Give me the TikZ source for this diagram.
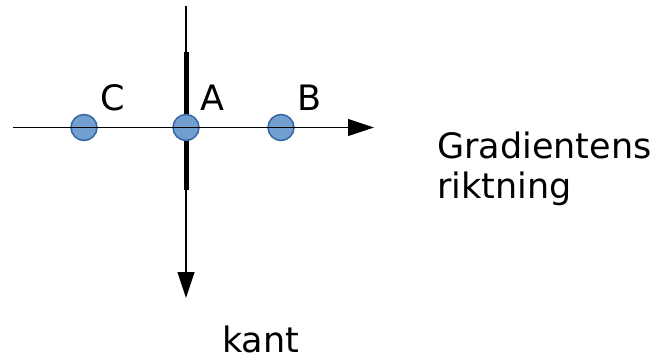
\documentclass[tikz,border=0pt]{standalone}
\usepackage{fontspec}
\setmainfont{DejaVu Sans}
\usepackage{tikz}
\usetikzlibrary{arrows.meta,positioning}
\usepackage{xcolor}
\definecolor{dotfill}{HTML}{729FCF}
\definecolor{dotline}{HTML}{3465A4}

\begin{document}
\begin{tikzpicture}[x=1pt, y=-1pt,
  axis/.style={line width=1.2pt, -{Triangle[length=26pt, width=17pt]}},
  dot/.style={circle, fill=dotfill, draw=dotline, line width=1.5pt, minimum size=26pt, inner sep=0pt},
  lbl/.style={anchor=base west, inner sep=0pt, font=\fontsize{35}{40}\selectfont}]
  \useasboundingbox (0,0) rectangle (655,361);
  % edge and axes
  \coordinate (ktop) at (186,52);
  \coordinate (kbot) at (186,190);
  \coordinate (vstart) at (186,6);
  \coordinate (vend) at (186,298);
  \coordinate (hstart) at (13,127.5);
  \coordinate (hend) at (374,127.5);
  \draw[line width=5pt] (ktop) -- (kbot);
  \draw[axis] (vstart) -- (vend);
  \node[dot] (c) at (84,127.5) {};
  \node[dot] (a) at (186,127.5) {};
  \node[dot] (b) at (281,127.5) {};
  \draw[axis] (hstart) -- (hend);
  % labels
  \node[lbl] (clbl) at (100,110) {C};
  \node[lbl] (albl) at (200,110) {A};
  \node[lbl] (blbl) at (297,110) {B};
  \node[lbl, align=left] (grad) at (437,198) {Gradientens\\riktning};
  \node[lbl] (kant) at (222,352) {kant};
\end{tikzpicture}
\end{document}
